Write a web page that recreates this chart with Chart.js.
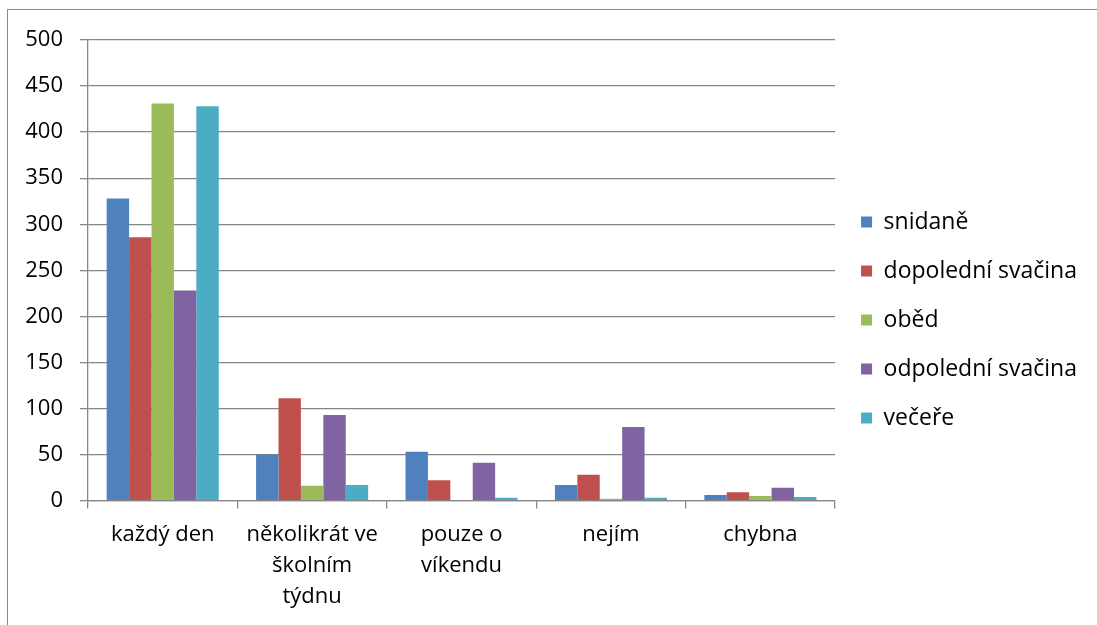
<!DOCTYPE html>
<html>
<head>
<meta charset="utf-8">
<script src="https://cdn.jsdelivr.net/npm/chart.js@4.4.0/dist/chart.umd.min.js"></script>
<style>
  html, body { margin: 0; padding: 0; background: #fff; }
  #wrap { position: relative; width: 1097px; height: 625px; overflow: hidden; }
  #frame { position: absolute; left: 7px; top: 9px; width: 1200px; height: 700px; border: 1px solid #8a8a8a; box-sizing: border-box; }
  #c { position: absolute; left: 0; top: 0; }
</style>
</head>
<body>
<div id="wrap">
  <div id="frame"></div>
  <canvas id="c" width="1097" height="625"></canvas>
</div>
<script>
var categories = ['každý den', ['několikrát ve', 'školním', 'týdnu'], ['pouze o', 'víkendu'], 'nejím', 'chybna'];
var seriesNames = ['snidaně', 'dopolední svačina', 'oběd', 'odpolední svačina', 'večeře'];
var snidane = [328, 50, 53, 17, 6];
var dopoledni = [286, 111, 22, 28, 9];
var obed = [431, 16, 0, 2, 5];
var odpoledni = [228, 93, 41, 80, 14];
var vecere = [428, 17, 3, 3, 4];
var colors = ['#4F81BD', '#C0504D', '#9BBB59', '#8064A2', '#4BACC6'];

var values = [snidane, dopoledni, obed, odpoledni, vecere];
var datasets = values.map(function (v, i) {
    return {
        label: seriesNames[i],
        data: v,
        backgroundColor: colors[i],
        borderWidth: 0,
        barPercentage: 1.0,
        categoryPercentage: 0.75
    };
});

var fam = 'Open Sans, DejaVu Sans, sans-serif';
var gridColor = '#868686';

var chart = new Chart(document.getElementById('c'), {
    type: 'bar',
    data: { labels: categories, datasets: datasets },
    options: {
        responsive: false,
        animation: false,
        layout: { padding: { left: 0, top: 17, right: 10, bottom: 2 } },
        plugins: {
            legend: {
                position: 'right',
                labels: {
                    color: '#000',
                    font: { family: fam, size: 23 },
                    boxWidth: 11,
                    boxHeight: 11,
                    padding: 26
                }
            },
            tooltip: { enabled: false }
        },
        scales: {
            x: {
                grid: {
                    offset: true,
                    drawOnChartArea: false,
                    color: gridColor,
                    lineWidth: 1.3,
                    tickLength: 8
                },
                border: { color: gridColor, width: 1.3 },
                ticks: { color: '#000', font: { family: fam, size: 22, lineHeight: 1.4 }, padding: 11, maxRotation: 0 }
            },
            y: {
                min: 0,
                max: 500,
                afterFit: function (scale) {
                    scale.width = 88;
                    scale.paddingTop = 40;  // keep plot top at y=40 while legend uses the full height
                },
                ticks: { stepSize: 50, color: '#000', font: { family: fam, size: 22 }, padding: 17 },
                grid: { color: gridColor, lineWidth: 1.3, tickLength: 8 },
                border: { color: gridColor, width: 1.3 }
            }
        }
    }
});
</script>
</body>
</html>
